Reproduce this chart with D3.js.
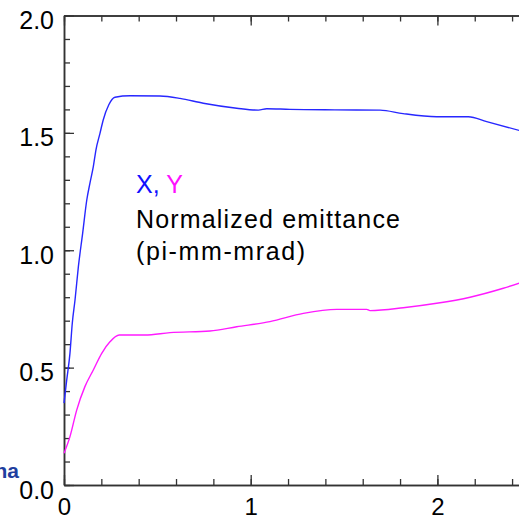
<!DOCTYPE html>
<html lang="en">
<head>
<meta charset="utf-8">
<title>Normalized emittance</title>
<script src="https://cdn.jsdelivr.net/npm/d3@7"></script>
<style>
  html, body { margin: 0; padding: 0; background: #fff; }
  svg { display: block; font-family: "Liberation Sans", Arial, sans-serif; }
  .axis path, .axis line { stroke: #333; }
  .axis path { stroke-width: 1.5px; }
  .axis line { stroke-width: 1.3px; }
  .axis text { font-size: 25px; fill: #000; font-family: "Liberation Sans", Arial, sans-serif; }
  .axis.xlab text { font-size: 24px; }
</style>
</head>
<body>
<svg id="chart" width="519" height="521"></svg>
<script>
// emittance X (blue)
const xPos = [0, 0.0145, 0.032, 0.0445, 0.059, 0.077, 0.100, 0.122, 0.139, 0.157, 0.171, 0.193, 0.210, 0.240, 0.273,
  0.354, 0.514, 0.621, 0.746, 0.925, 1.041, 1.086, 1.21, 1.45, 1.693, 1.816, 1.996, 2.166, 2.264, 2.44];
const xVal = [0.349, 0.447, 0.562, 0.690, 0.788, 0.930, 1.073, 1.214, 1.286, 1.356, 1.427, 1.499, 1.555, 1.620, 1.652,
  1.658, 1.657, 1.647, 1.626, 1.605, 1.597, 1.603, 1.600, 1.598, 1.597, 1.582, 1.569, 1.569, 1.548, 1.510];

// emittance Y (magenta)
const yPos = [0, 0.032, 0.068, 0.112, 0.157, 0.202, 0.246, 0.296, 0.434, 0.568, 0.782, 0.925, 1.103, 1.282,
  1.461, 1.621, 1.639, 1.817, 1.996, 2.175, 2.353, 2.44];
const yVal = [0.135, 0.206, 0.319, 0.419, 0.490, 0.561, 0.610, 0.639, 0.639, 0.649, 0.656, 0.674, 0.696, 0.731,
  0.748, 0.748, 0.743, 0.755, 0.774, 0.800, 0.838, 0.860];

const xMajor = [0, 1, 2];
const yMajor = [0, 0.5, 1.0, 1.5, 2.0];

const svg = d3.select("#chart");
const mLeft = 64, mTop = 15.5, mBottom = 485;

const x = d3.scaleLinear().domain([0, 2.5]).range([mLeft, mLeft + 2.5 * 186.7]);
const y = d3.scaleLinear().domain([0, 2]).range([mBottom, mTop]);

const xMinor = d3.range(0, 2.51, 0.2);
const yMinor = d3.range(0, 2.01, 0.1);

// minor ticks
svg.append("g").attr("class", "axis")
  .attr("transform", `translate(0,${mBottom})`)
  .call(d3.axisBottom(x).tickValues(xMinor).tickSize(-6).tickSizeOuter(0).tickFormat(""));
svg.append("g").attr("class", "axis")
  .attr("transform", `translate(0,${mTop})`)
  .call(d3.axisTop(x).tickValues(xMinor).tickSize(-6).tickSizeOuter(0).tickFormat(""));
svg.append("g").attr("class", "axis")
  .attr("transform", `translate(${mLeft},0)`)
  .call(d3.axisLeft(y).tickValues(yMinor).tickSize(-6).tickSizeOuter(0).tickFormat(""));

// major ticks + labels
svg.append("g").attr("class", "axis xlab")
  .attr("transform", `translate(0,${mBottom})`)
  .call(d3.axisBottom(x).tickValues(xMajor).tickSize(-10).tickSizeOuter(0).tickPadding(13).tickFormat(d3.format("d")));
svg.append("g").attr("class", "axis")
  .attr("transform", `translate(0,${mTop})`)
  .call(d3.axisTop(x).tickValues(xMajor).tickSize(-10).tickSizeOuter(0).tickFormat(""));
svg.append("g").attr("class", "axis")
  .attr("transform", `translate(${mLeft},0)`)
  .call(d3.axisLeft(y).tickValues(yMajor).tickSize(-10).tickSizeOuter(0).tickPadding(10).tickFormat(d3.format(".1f")))
  .selectAll("text").attr("dy", "0.52em");

const line = d3.line().curve(d3.curveMonotoneX);

svg.append("path")
  .attr("d", line(xPos.map((p, i) => [x(p), y(xVal[i])])))
  .attr("fill", "none").attr("stroke", "#2727ff").attr("stroke-width", 1.4);

svg.append("path")
  .attr("d", line(yPos.map((p, i) => [x(p), y(yVal[i])])))
  .attr("fill", "none").attr("stroke", "#ff1aff").attr("stroke-width", 1.4);

// annotation
const note = svg.append("g").style("font-size", "25px");
const t1 = note.append("text").attr("x", 136).attr("y", 193);
t1.append("tspan").attr("fill", "#1010ff").text("X, ");
t1.append("tspan").attr("fill", "#ff10ff").text("Y");
note.append("text").attr("x", 136).attr("y", 228)
  .attr("textLength", 264).attr("lengthAdjust", "spacing").text("Normalized emittance");
note.append("text").attr("x", 136).attr("y", 260)
  .attr("textLength", 169).attr("lengthAdjust", "spacing").text("(pi-mm-mrad)");

// cut-off label at left edge
svg.append("text").attr("x", 19).attr("y", 478)
  .attr("text-anchor", "end")
  .style("font-size", "21px").style("font-weight", "bold")
  .attr("fill", "#1f3f9f").text("na");
</script>
</body>
</html>
